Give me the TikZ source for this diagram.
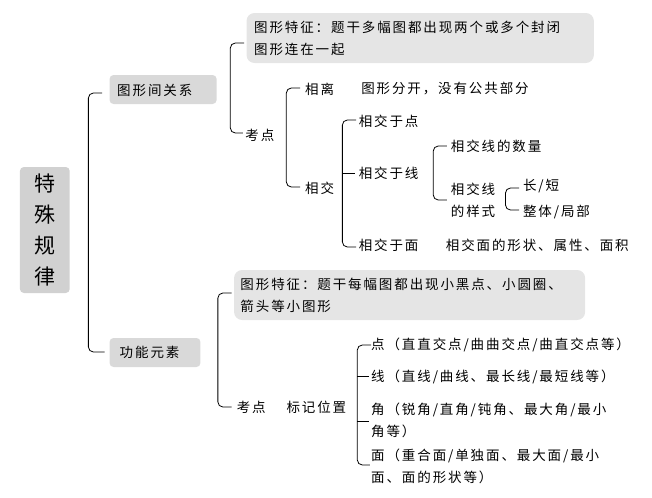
\documentclass[tikz,border=0pt]{standalone}
\usepackage{fontspec}
\newfontfamily\cjk{Noto Sans CJK SC}[LetterSpace=14]
\begin{document}
\begin{tikzpicture}[x=1.245pt,y=-1pt,
  t/.style={anchor=west,inner sep=0pt,font=\cjk\fontsize{13.5}{22}\selectfont,align=left},
  br/.style={draw=black,line width=0.8pt,rounded corners=5pt}]
\useasboundingbox (0,0) rectangle (523.7,498);
% root
\fill[black!18,rounded corners=4pt] (16,167) rectangle (56,293);
\node[inner sep=0pt,align=center,font=\cjk\fontsize{21}{31}\selectfont] (root) at (36.5,230) {特\\殊\\规\\律};
% level 1
\fill[black!15,rounded corners=4pt] (88,75) rectangle (174,104);
\node[t] (r1) at (94,90) {图形间关系};
\fill[black!15,rounded corners=4pt] (88,338) rectangle (161,367);
\node[t] (r2) at (96,352) {功能元素};
\draw[br] (82,93) -- (71,93) -- (71,352) -- (84,352);
% upper
\fill[black!10,rounded corners=8pt] (198,13) rectangle (477,63);
\node[t] (f1) at (204,38) {图形特征：题干多幅图都出现两个或多个封闭\\图形连在一起};
\node[t] (k1) at (197,135) {考点};
\draw[br] (196,43) -- (185,43) -- (185,133) -- (195,133);
\node[t] (xl) at (245,89) {相离};
\node[t] (xl2) at (290,89) {图形分开，没有公共部分};
\node[t] (xj) at (245,188) {相交};
\draw[br] (241,88) -- (230,88) -- (230,187) -- (241,187);
\node[t] (d1) at (288,121) {相交于点};
\node[t] (d2) at (288,173) {相交于线};
\node[t] (d3) at (288,245) {相交于面};
\node[t] (d3b) at (358,245) {相交面的形状、属性、面积};
\draw[br] (286,120) -- (275,120) -- (275,247) -- (286,247);
\draw[line width=0.8pt] (275,173) -- (285,173);
\node[t] (e1) at (362,146) {相交线的数量};
\node[t] (e2) at (362,200) {相交线\\的样式};
\draw[br] (359,146) -- (348,146) -- (348,200) -- (359,200);
\node[t] (g1) at (420,186) {长/短};
\node[t] (g2) at (420,212) {整体/局部};
\draw[br] (417,188) -- (406,188) -- (406,210) -- (417,210);
% lower
\fill[black!10,rounded corners=8pt] (188,270) rectangle (470,320);
\node[t] (f2) at (193,295) {图形特征：题干每幅图都出现小黑点、小圆圈、\\箭头等小图形};
\node[t] (k2) at (190,407) {考点};
\node[t] (bj) at (230,407) {标记位置};
\draw[br] (186,293) -- (175,293) -- (175,407) -- (186,407);
\node[t] (p1) at (298,345) {点（直直交点/曲曲交点/曲直交点等）};
\node[t] (p2) at (298,377) {线（直线/曲线、最长线/最短线等）};
\node[t] (p3) at (298,420) {角（锐角/直角/钝角、最大角/最小\\角等）};
\node[t] (p4) at (298,466) {面（重合面/单独面、最大面/最小\\面、面的形状等）};
\draw[br] (298,345) -- (287,345) -- (287,465) -- (297,465);
\draw[line width=0.8pt] (287,376) -- (296,376) (287,421) -- (296,421);
\end{tikzpicture}
\end{document}
